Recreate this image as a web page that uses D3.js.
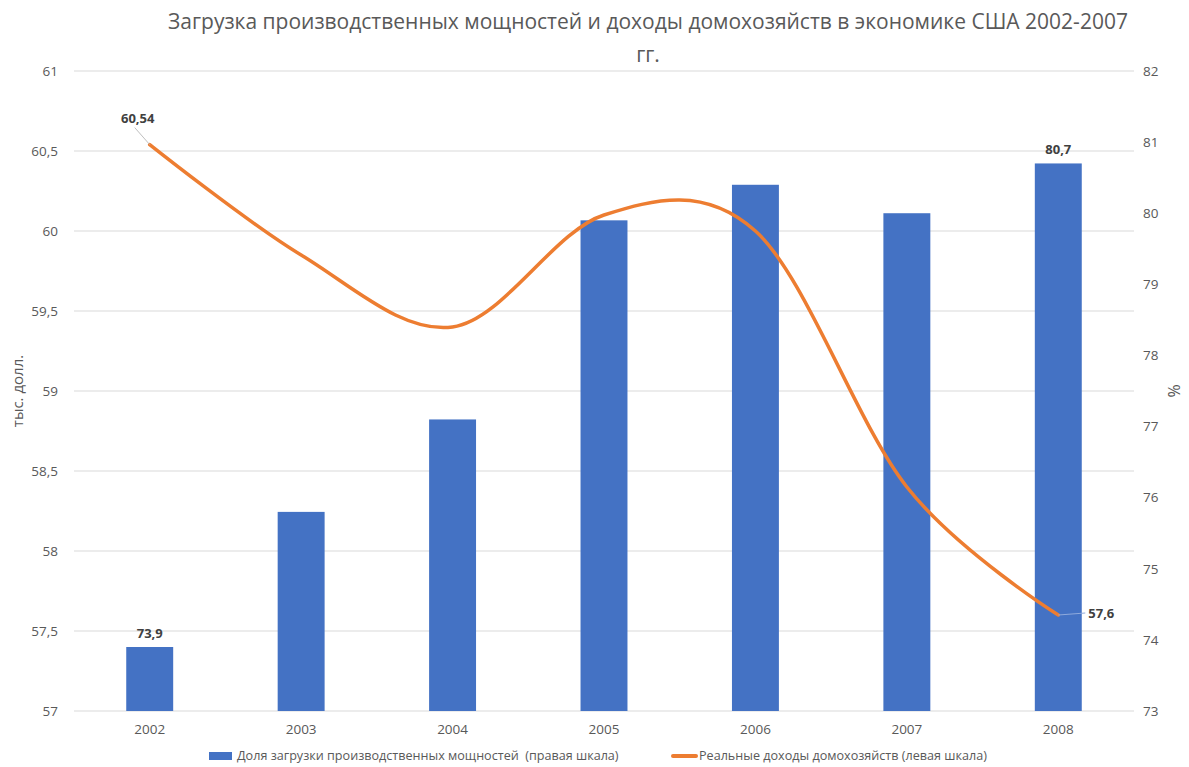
<!DOCTYPE html>
<html>
<head>
<meta charset="utf-8">
<script src="https://cdn.jsdelivr.net/npm/d3@7"></script>
<style>
  body { margin: 0; background: #fff; }
  text { font-family: 'Open Sans', 'Noto Sans', sans-serif; white-space: pre; }
</style>
</head>
<body>
<div id="chart"></div>
<script>
const WIDTH = 1189;
const HEIGHT = 767;

const years = ['2002', '2003', '2004', '2005', '2006', '2007', '2008'];
const capacity = [73.9, 75.8, 77.1, 79.9, 80.4, 80.0, 80.7];     // right axis, %
const income = [60.54, 59.85, 59.4, 60.1, 60.0, 58.4, 57.6];     // left axis, thous. $
const leftTicks = [57, 57.5, 58, 58.5, 59, 59.5, 60, 60.5, 61];
const rightTicks = [73, 74, 75, 76, 77, 78, 79, 80, 81, 82];

const titleLines = ['Загрузка производственных мощностей и доходы домохозяйств в экономике США 2002-2007', 'гг.'];
const legendBar = 'Доля загрузки производственных мощностей  (правая шкала)';
const legendLine = 'Реальные доходы домохозяйств (левая шкала)';

const fmt = v => String(v).replace('.', ',');

const margin = {top: 71, right: 55, bottom: 56, left: 74};
const width = WIDTH - margin.left - margin.right;
const height = HEIGHT - margin.top - margin.bottom;

const svg = d3.select('#chart').append('svg')
  .attr('width', WIDTH)
  .attr('height', HEIGHT);

const g = svg.append('g')
  .attr('transform', `translate(${margin.left}, ${margin.top})`);

const x = d3.scaleBand().domain(years).range([0, width]).paddingInner(0.69).paddingOuter(0.345);
const yL = d3.scaleLinear().domain([57, 61]).range([height, 0]);
const yR = d3.scaleLinear().domain([73, 82]).range([height, 0]);
const cx = d => x(d) + x.bandwidth() / 2;

// gridlines
g.selectAll('.grid').data(leftTicks).enter().append('line')
  .attr('x1', 0).attr('x2', width)
  .attr('y1', d => yL(d)).attr('y2', d => yL(d))
  .attr('stroke', '#d9d9d9').attr('stroke-width', 1);

// axes
const axisL = g.append('g').call(d3.axisLeft(yL).tickValues(leftTicks).tickFormat(fmt).tickSize(0).tickPadding(16));
const axisR = g.append('g').attr('transform', `translate(${width}, 0)`)
  .call(d3.axisRight(yR).tickValues(rightTicks).tickSize(0).tickPadding(9));
const axisX = g.append('g').attr('transform', `translate(0, ${height})`)
  .call(d3.axisBottom(x).tickSize(0).tickPadding(13));
for (const a of [axisL, axisR, axisX]) {
  a.select('.domain').remove();
  a.selectAll('text').attr('fill', '#595959').attr('font-size', 13.5).attr('font-family', "'Open Sans', sans-serif");
}

// bars
g.selectAll('.bar').data(years).enter().append('rect')
  .attr('x', d => x(d))
  .attr('width', x.bandwidth())
  .attr('y', (d, i) => yR(capacity[i]))
  .attr('height', (d, i) => height - yR(capacity[i]))
  .attr('fill', '#4472c4');

// line
const line = d3.line()
  .x(d => cx(d[0]))
  .y(d => yL(d[1]))
  .curve(d3.curveCardinal.tension(0));

g.append('path')
  .datum(years.map((y, i) => [y, income[i]]))
  .attr('fill', 'none')
  .attr('stroke', '#ed7d31')
  .attr('stroke-width', 3.5)
  .attr('stroke-linecap', 'round')
  .attr('d', line);

// data labels
const labelStyle = sel => sel
  .attr('font-size', 13)
  .attr('font-weight', 'bold')
  .attr('fill', '#404040');

const first = 0, last = years.length - 1;
g.append('line')
  .attr('x1', cx(years[first]) - 15).attr('y1', yL(income[first]) - 17)
  .attr('x2', cx(years[first])).attr('y2', yL(income[first]))
  .attr('stroke', '#bfbfbf').attr('stroke-width', 1);
g.append('text')
  .attr('x', cx(years[first]) - 12).attr('y', yL(income[first]) - 22)
  .attr('text-anchor', 'middle')
  .call(labelStyle).text(fmt(income[first]));

g.append('line')
  .attr('x1', cx(years[last])).attr('y1', yL(income[last]))
  .attr('x2', cx(years[last]) + 27).attr('y2', yL(income[last]) - 2)
  .attr('stroke', '#8faadc').attr('stroke-width', 1);
g.append('text')
  .attr('x', cx(years[last]) + 30).attr('y', yL(income[last]) + 3)
  .call(labelStyle).text(fmt(income[last]));

for (const i of [first, last]) {
  g.append('text')
    .attr('x', cx(years[i])).attr('y', yR(capacity[i]) - 9)
    .attr('text-anchor', 'middle')
    .call(labelStyle).text(fmt(capacity[i]));
}

// title
svg.selectAll('.title').data(titleLines).enter().append('text')
  .attr('x', 648).attr('y', (d, i) => 29 + i * 33)
  .attr('text-anchor', 'middle')
  .attr('font-size', 21)
  .attr('fill', '#595959')
  .text(d => d);

// axis titles
svg.append('text')
  .attr('transform', `translate(23, ${margin.top + height / 2}) rotate(-90)`)
  .attr('text-anchor', 'middle')
  .attr('font-size', 15).attr('fill', '#595959')
  .text('тыс. долл.');
svg.append('text')
  .attr('transform', `translate(1180, ${margin.top + height / 2}) rotate(-90)`)
  .attr('text-anchor', 'middle')
  .attr('font-size', 16).attr('fill', '#595959')
  .text('%');

// legend
const legend = svg.append('g').attr('transform', `translate(0, ${HEIGHT - 7})`);
legend.append('rect').attr('x', 209).attr('y', -8).attr('width', 23).attr('height', 8).attr('fill', '#4472c4');
legend.append('text').attr('x', 237).attr('y', 0).attr('font-size', 12.6).attr('fill', '#595959').text(legendBar);
legend.append('line').attr('x1', 673).attr('x2', 696).attr('y1', -4).attr('y2', -4)
  .attr('stroke', '#ed7d31').attr('stroke-width', 4).attr('stroke-linecap', 'round');
legend.append('text').attr('x', 699).attr('y', 0).attr('font-size', 12.6).attr('fill', '#595959').text(legendLine);
</script>
</body>
</html>
